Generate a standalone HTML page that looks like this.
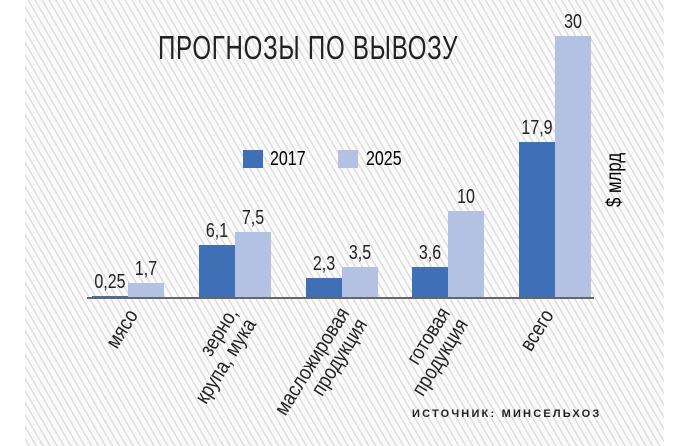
<!DOCTYPE html>
<html><head><meta charset="utf-8"><style>
body{margin:0;width:700px;height:446px;background:#fff;overflow:hidden;font-family:"Liberation Sans",sans-serif;}
#bg{position:absolute;left:25px;top:0;width:639px;height:446px;background:repeating-linear-gradient(60deg,#fafafa 0 3px,#dedede 3px 4.5px,#fafafa 4.5px 6px);}
.t{position:absolute;white-space:nowrap;transform-origin:0 0;}
.b{position:absolute;}
.d{background:#3f70b6}.l{background:#b3c2e3}
.v{position:absolute;font-size:20px;color:#222;transform:scaleX(.8);transform-origin:center bottom;text-align:center;width:60px;}
.c{position:absolute;font-size:21px;color:#222;transform-origin:100% 0;text-align:right;white-space:nowrap;line-height:21px;}
</style></head><body>
<div id="bg"></div>
<div class="t" style="left:158px;top:29px;font-size:33px;color:#222;transform:scaleX(.73);letter-spacing:1px;">ПРОГНОЗЫ ПО ВЫВОЗУ</div>
<div class="b d" style="left:243px;top:150px;width:20px;height:18px"></div>
<div class="t" style="left:270px;top:148px;font-size:20px;transform:scaleX(.8)">2017</div>
<div class="b l" style="left:338px;top:150px;width:20px;height:18px"></div>
<div class="t" style="left:366px;top:148px;font-size:20px;transform:scaleX(.8)">2025</div>
<div class="b d" style="left:92px;top:296px;width:36px;height:2px"></div>
<div class="b l" style="left:128px;top:283px;width:36px;height:15px"></div>
<div class="b d" style="left:199px;top:245px;width:36px;height:53px"></div>
<div class="b l" style="left:235px;top:232px;width:36px;height:66px"></div>
<div class="b d" style="left:306px;top:278px;width:36px;height:20px"></div>
<div class="b l" style="left:342px;top:267px;width:36px;height:31px"></div>
<div class="b d" style="left:412px;top:267px;width:36px;height:31px"></div>
<div class="b l" style="left:448px;top:211px;width:36px;height:87px"></div>
<div class="b d" style="left:519px;top:142px;width:36px;height:156px"></div>
<div class="b l" style="left:555px;top:36px;width:36px;height:262px"></div>
<div class="b" style="left:87px;top:297px;width:507px;height:2px;background:#666"></div>
<div class="v" style="left:80px;bottom:152px">0,25</div>
<div class="v" style="left:116px;bottom:165px">1,7</div>
<div class="v" style="left:187px;bottom:203px">6,1</div>
<div class="v" style="left:223px;bottom:216px">7,5</div>
<div class="v" style="left:294px;bottom:170px">2,3</div>
<div class="v" style="left:330px;bottom:181px">3,5</div>
<div class="v" style="left:400px;bottom:181px">3,6</div>
<div class="v" style="left:436px;bottom:237px">10</div>
<div class="v" style="left:507px;bottom:306px">17,9</div>
<div class="v" style="left:543px;bottom:412px">30</div>
<div class="c" style="right:576px;top:306px;transform:rotate(-58deg) scaleX(.85)">мясо</div>
<div class="c" style="right:476px;top:304px;transform:rotate(-58deg) scaleX(.85)">зерно,<br>крупа, мука</div>
<div class="c" style="right:364px;top:304px;transform:rotate(-58deg) scaleX(.85)">масложировая<br>продукция</div>
<div class="c" style="right:264px;top:304px;transform:rotate(-58deg) scaleX(.85)">готовая<br>продукция</div>
<div class="c" style="right:160px;top:306px;transform:rotate(-58deg) scaleX(.85)">всего</div>
<div class="t" style="left:603px;top:207px;font-size:21px;transform:rotate(-90deg) scaleX(.8)">$ млрд</div>
<div class="t" style="left:412px;top:408px;font-size:11px;font-weight:bold;letter-spacing:2.2px;color:#222">ИСТОЧНИК: МИНСЕЛЬХОЗ</div>
</body></html>
